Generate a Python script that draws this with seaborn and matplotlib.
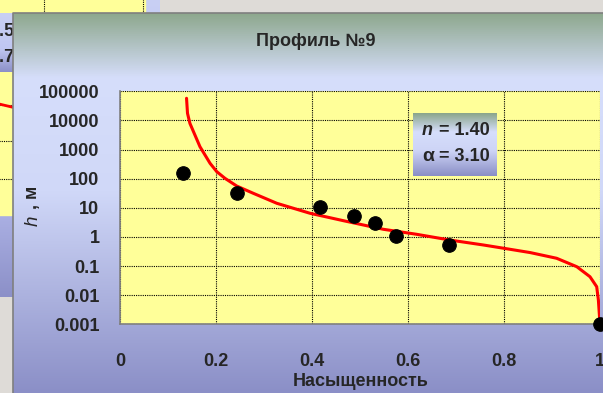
"""
Water retention curve, profile 9 (Excel-style screenshot)
"""

import numpy as np
import pandas as pd
import matplotlib
matplotlib.use("Agg")
import matplotlib.pyplot as plt
from matplotlib.colors import to_rgb
import seaborn as sns

# measured points
sat_points = [0.131, 0.243, 0.416, 0.486, 0.531, 0.574, 0.684, 1.0]
h_points = [157, 31.6, 10.4, 5.1, 3.1, 1.07, 0.54, 0.001]

# fitted curve
sat_curve = [0.138, 0.140, 0.145, 0.166, 0.187, 0.201, 0.218, 0.2425, 0.277,
             0.326, 0.395, 0.465, 0.548, 0.6175, 0.687, 0.756, 0.798, 0.854,
             0.909, 0.951, 0.9785, 0.9925, 0.996, 0.9994]
h_curve = [57500, 17600, 7950, 1250, 337, 174, 103, 56, 31.5,
           14.3, 6.5, 3.6, 1.83, 1.23, 0.78, 0.53, 0.41, 0.29,
           0.185, 0.095, 0.043, 0.0195, 0.0068, 0.001]

x_ticks = [0, 0.2, 0.4, 0.6, 0.8, 1]
x_labels = ["0", "0.2", "0.4", "0.6", "0.8", "1"]
y_ticks = [0.001, 0.01, 0.1, 1, 10, 100, 1000, 10000, 100000]
y_labels = ["0.001", "0.01", "0.1", "1", "10", "100", "1000", "10000", "100000"]

title = "Профиль №9"
x_title = "Насыщенность"
n_text = "= 1.40"
alpha_text = "= 3.10"

sns.set_theme(style="white")
plt.rcParams["font.family"] = ["Liberation Sans", "DejaVu Sans"]

W, H = 603, 393
FS = 13
fig = plt.figure(figsize=(W / 100, H / 100), dpi=100)
fig.patch.set_facecolor("#dedbd7")


def vgrad(stops, n=200):
    # vertical gradient image from (fraction, colour) stops
    pos = np.linspace(0, 1, n)
    fr = [s[0] for s in stops]
    cols = np.array([to_rgb(s[1]) for s in stops])
    img = np.stack([np.interp(pos, fr, cols[:, k]) for k in range(3)], axis=-1)
    return img[:, None, :]


def px_rect(x0, y0, x1, y1):
    return [x0 / W, 1 - y1 / H, (x1 - x0) / W, (y1 - y0) / H]


# background layer in pixel coordinates
bg = fig.add_axes([0, 0, 1, 1])
bg.set_xlim(0, W)
bg.set_ylim(H, 0)
bg.axis("off")

# chart lying behind (top-left)
old_panel = vgrad([(0, "#c9d0f4"), (0.6, "#b9bff0"), (1, "#8c90c8")])
bg.imshow(old_panel, extent=[-5, 160, 297, -5], aspect="auto", zorder=1)
bg.fill_between([-5, 145], -5, 215, color="#ffff99", zorder=2)
for yy in [105, 141, 179]:
    bg.plot([-5, 145], [yy, yy], color="black", lw=0.8, ls=(0, (1, 1)), zorder=3)
for xx in [44, 143]:
    bg.plot([xx, xx], [-5, 215], color="black", lw=0.8, ls=(0, (1, 1)), zorder=3)
bg.plot([-5, 20], [103, 109], color="red", lw=2, zorder=3)
old_leg = vgrad([(0, "#c9d0f4"), (0.6, "#c0c7f2"), (1, "#8c90c8")])
bg.imshow(old_leg, extent=[-5, 30, 72, 13], aspect="auto", zorder=4)
bg.text(15, 32, "1.5", fontsize=FS, fontweight="bold", ha="right", va="center", zorder=5)
bg.text(15, 57, "2.7", fontsize=FS, fontweight="bold", ha="right", va="center", zorder=5)

# main chart panel
panel = vgrad([(0, "#8ea88e"), (0.17, "#d6defb"), (0.47, "#d0d8f8"), (1, "#8b8fc7")])
bg.imshow(panel, extent=[13, W + 5, H, 13], aspect="auto", zorder=10)
bg.plot([13, 13, W + 5], [H, 13, 13], color="#7f7f7f", lw=1.2, zorder=11)

# plot area
ax = fig.add_axes(px_rect(120.3, 91.3, 600.3, 324.3))
ax.set_facecolor("#ffff99")

df_curve = pd.DataFrame({"sat": sat_curve, "h": h_curve})
df_pts = pd.DataFrame({"sat": sat_points, "h": h_points})

sns.lineplot(data=df_curve, x="sat", y="h", ax=ax, color="#ff0000",
             linewidth=2.2, sort=False, estimator=None, zorder=3)
sns.scatterplot(data=df_pts, x="sat", y="h", ax=ax, color="black", s=95,
                edgecolor="black", zorder=4, clip_on=False)

ax.set_yscale("log")
ax.set_xlim(0, 1)
ax.set_ylim(0.001, 100000)
ax.set_xticks(x_ticks)
ax.set_xticklabels(x_labels)
ax.set_yticks(y_ticks)
ax.set_yticklabels(y_labels)
ax.minorticks_off()
ax.set_xlabel("")
ax.set_ylabel("")

ax.grid(True, color="black", linestyle=(0, (1, 1)), linewidth=0.8)
for side in ["top", "right"]:
    ax.spines[side].set_visible(False)
for side in ["left", "bottom"]:
    ax.spines[side].set_color("#808080")
    ax.spines[side].set_linewidth(1.2)
ax.tick_params(axis="y", direction="out", length=6, width=1, color="#808080",
               pad=9, labelsize=FS)
ax.tick_params(axis="x", direction="out", length=6, width=1, color="#808080",
               pad=15, labelsize=FS)
for lab in ax.get_xticklabels() + ax.get_yticklabels():
    lab.set_fontweight("bold")

# titles
fig.text(316 / W, 1 - 42 / H, title, fontsize=FS, fontweight="bold",
         ha="center", va="center")
fig.text(361 / W, 1 - 381 / H, x_title, fontsize=FS, fontweight="bold",
         ha="center", va="center")
fig.text(33 / W, 1 - 221 / H, "h", fontsize=FS + 0.5, fontstyle="italic",
         rotation=90, ha="center", va="center")
fig.text(33 / W, 1 - 197 / H, ", м", fontsize=FS, fontweight="bold",
         rotation=90, ha="center", va="center")

# parameter box
box = fig.add_axes(px_rect(413, 113, 497, 176))
box.imshow(vgrad([(0, "#8aa58a"), (0.3, "#d6defb"), (0.6, "#cdd4f6"), (1, "#8a8ec6")]),
           extent=[0, 1, 0, 1], aspect="auto")
box.set_xlim(0, 1)
box.set_ylim(0, 1)
box.axis("off")
box.text(0.17, 0.72, "n", fontsize=FS, fontweight="bold", fontstyle="italic",
         ha="center", va="center")
box.text(0.31, 0.72, n_text, fontsize=FS, fontweight="bold", ha="left", va="center")
box.text(0.18, 0.31, "α", fontsize=FS + 1, fontweight="bold", ha="center", va="center")
box.text(0.31, 0.31, alpha_text, fontsize=FS, fontweight="bold", ha="left", va="center")

fig.savefig("out.png", dpi=100)
